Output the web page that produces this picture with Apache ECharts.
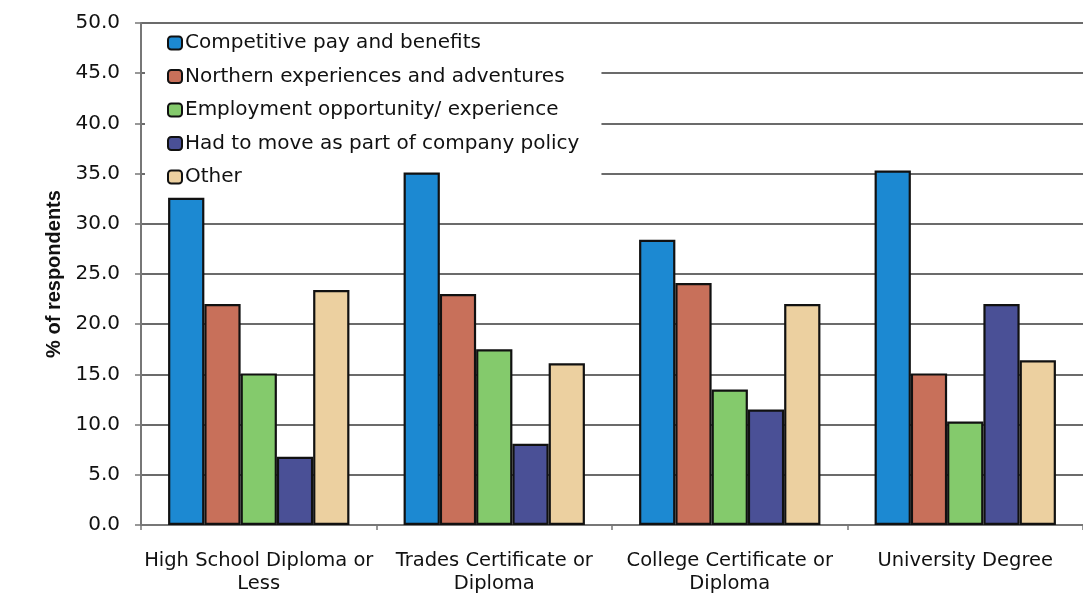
<!DOCTYPE html>
<html>
<head>
<meta charset="utf-8">
<script src="https://cdn.jsdelivr.net/npm/echarts@6/dist/echarts.min.js"></script>
<style>
html,body{margin:0;padding:0;background:#fff;}
#chart{width:1083px;height:595px;}
</style>
</head>
<body>
<div id="chart"></div>
<script>
var categories = ["High School Diploma or\nLess", "Trades Certificate or\nDiploma", "College Certificate or\nDiploma", "University Degree"];
var seriesNames = ["Competitive pay and benefits", "Northern experiences and adventures", "Employment opportunity/ experience", "Had to move as part of company policy", "Other"];
var competitivePay = [32.6, 35.1, 28.4, 35.3];
var northernExperiences = [22.0, 23.0, 24.1, 15.1];
var employmentOpportunity = [15.1, 17.5, 13.5, 10.3];
var companyPolicy = [6.8, 8.1, 11.5, 22.0];
var other = [23.4, 16.1, 22.0, 16.4];
var yTicks = {min: 0, max: 50, interval: 5};

var colors = ["#1c89d2", "#c8705a", "#84ca6c", "#4a5096", "#ecd0a0"];
var values = [competitivePay, northernExperiences, employmentOpportunity, companyPolicy, other];

var chart = echarts.init(document.getElementById('chart'));
var series = seriesNames.map(function (name, i) {
  return {
    name: name,
    type: 'bar',
    z: 3,
    barGap: '0%',
    barCategoryGap: '23%',
    data: values[i],
    itemStyle: {color: colors[i], borderColor: '#111', borderWidth: 2.2}
  };
});

chart.setOption({
  animation: false,
  backgroundColor: '#fff',
  color: colors,
  grid: {left: 141, right: -15, top: 23, bottom: 70, containLabel: false},
  legend: {
    orient: 'vertical',
    left: 145,
    top: 24,
    z: 1,
    padding: [9, 22, 6, 22],
    backgroundColor: '#fff',
    itemWidth: 14,
    itemHeight: 13,
    itemGap: 13.5,
    icon: 'roundRect',
    itemStyle: {borderColor: '#111', borderWidth: 2},
    textStyle: {fontFamily: 'DejaVu Sans', fontSize: 20, color: '#111', lineHeight: 20, padding: [0, 0, 0, -2]},
    data: seriesNames
  },
  xAxis: {
    type: 'category',
    data: categories,
    axisLine: {lineStyle: {color: '#777', width: 2}},
    axisTick: {show: true, length: 5, lineStyle: {color: '#777', width: 1.5}},
    axisLabel: {fontFamily: 'DejaVu Sans', fontSize: 19.5, color: '#111', lineHeight: 23, margin: 24, interval: 0}
  },
  yAxis: {
    type: 'value',
    min: yTicks.min,
    max: yTicks.max,
    interval: yTicks.interval,
    name: '% of respondents',
    nameLocation: 'middle',
    nameGap: 75,
    nameRotate: 90,
    nameTextStyle: {fontFamily: 'Liberation Sans', fontWeight: 'bold', fontSize: 20, color: '#111'},
    axisLine: {show: true, lineStyle: {color: '#777', width: 2}},
    axisTick: {show: true, length: 6, lineStyle: {color: '#777', width: 1.5}},
    axisLabel: {fontFamily: 'DejaVu Sans', fontSize: 20, color: '#111', margin: 21,
      formatter: function (v) { return v.toFixed(1); }},
    splitLine: {show: true, lineStyle: {color: '#3a3a3a', width: 1.5}}
  },
  series: series
});
</script>
</body>
</html>
